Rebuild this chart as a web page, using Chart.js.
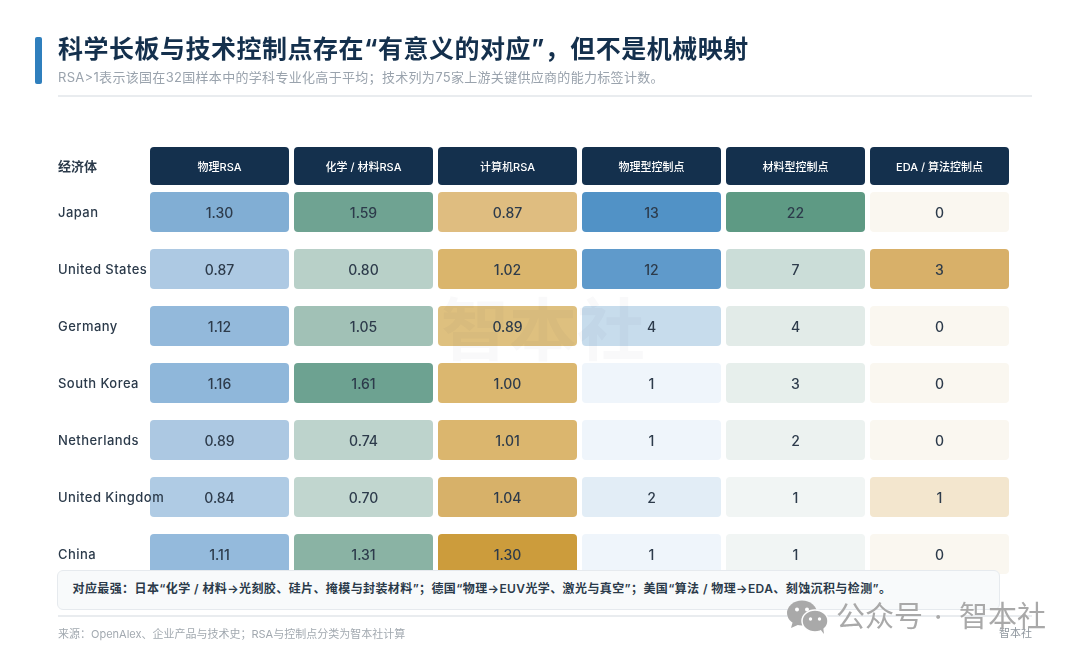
<!DOCTYPE html>
<html lang="zh">
<head>
<meta charset="utf-8">
<script src="https://cdn.jsdelivr.net/npm/chart.js@4/dist/chart.umd.js"></script>
<style>
html,body{margin:0;padding:0;background:#fff;}
body{width:1080px;height:660px;position:relative;overflow:hidden;font-family:Inter,"Noto Sans CJK SC",sans-serif;}
#c{position:absolute;left:0;top:0;}
.t{position:absolute;white-space:nowrap;}
#bar{position:absolute;left:35px;top:37px;width:7px;height:47px;background:#2f7fbd;border-radius:2px;}
#title{left:58px;top:33px;font-size:25px;line-height:32px;font-weight:700;color:#14304d;letter-spacing:.5px;}
#sub{left:58px;top:68px;font-size:13px;line-height:18px;color:#9aa3ad;letter-spacing:.31px;}
.rule{position:absolute;height:2px;background:#e9ecef;left:58px;width:974px;}
#note{position:absolute;left:57px;top:570px;width:941px;height:38px;background:#f8fafb;border:1px solid #e6eaee;border-radius:6px;z-index:3;}
#noteT{left:14.5px;top:9px;font-size:12px;line-height:18px;font-weight:600;color:#2b3a4a;letter-spacing:.4px;}
#src{left:58px;top:626px;font-size:11px;line-height:16px;color:#a2a9b0;}
#brand{left:999px;top:626px;font-size:11px;line-height:15px;color:#8f979e;}
#wm{left:441px;top:288px;font-size:68px;line-height:84px;font-weight:700;color:rgba(20,48,77,.028);z-index:2;}
.wx{color:#a9a9a9;font-size:29px;line-height:36px;top:599px;z-index:4;}
#wxi{position:absolute;left:787px;top:600px;width:41px;height:34px;z-index:4;}
</style>
</head>
<body>
<canvas id="c" width="1080" height="660" style="width:1080px;height:660px"></canvas>
<div id="bar"></div>
<div class="t" id="title">科学长板与技术控制点存在“有意义的对应”，但不是机械映射</div>
<div class="t" id="sub">RSA&gt;1表示该国在32国样本中的学科专业化高于平均；技术列为75家上游关键供应商的能力标签计数。</div>
<div class="rule" style="top:95px"></div>
<div class="t" id="wm">智本社</div>
<div id="note"><div class="t" id="noteT">对应最强：日本“化学 / 材料→光刻胶、硅片、掩模与封装材料”；德国“物理→EUV光学、激光与真空”；美国“算法 / 物理→EDA、刻蚀沉积与检测”。</div></div>
<div class="rule" style="top:615px"></div>
<div class="t" id="src">来源：OpenAlex、企业产品与技术史；RSA与控制点分类为智本社计算</div>
<div class="t" id="brand">智本社</div>
<svg id="wxi" viewBox="0 0 41 34">
<ellipse cx="15" cy="13" rx="15" ry="12.5" fill="#a9a9a9"/><path d="M6 21 L4 28 L13 24Z" fill="#a9a9a9"/>
<ellipse cx="28" cy="21" rx="13" ry="11" fill="#a9a9a9" stroke="#fff" stroke-width="1.5"/><path d="M33 29 L37 34 L36 26Z" fill="#a9a9a9"/>
<circle cx="10" cy="9.5" r="2" fill="#fff"/><circle cx="20" cy="9.5" r="2" fill="#fff"/><circle cx="23.5" cy="19" r="1.7" fill="#fff"/><circle cx="32.5" cy="19" r="1.7" fill="#fff"/>
</svg>
<div class="t wx" style="left:836px">公众号</div>
<div class="t wx" style="left:934px">·</div>
<div class="t wx" style="left:959px">智本社</div>
<script>
const economies = ["Japan","United States","Germany","South Korea","Netherlands","United Kingdom","China"];
const metrics = ["物理RSA","化学 / 材料RSA","计算机RSA","物理型控制点","材料型控制点","EDA / 算法控制点"];
const physicsRSA = ["1.30","0.87","1.12","1.16","0.89","0.84","1.11"];
const chemistryRSA = ["1.59","0.80","1.05","1.61","0.74","0.70","1.31"];
const computerRSA = ["0.87","1.02","0.89","1.00","1.01","1.04","1.30"];
const physicalCtrl = ["13","12","4","1","1","2","1"];
const materialCtrl = ["22","7","4","3","2","1","1"];
const edaCtrl = ["0","3","0","0","0","1","0"];
const columns = [physicsRSA, chemistryRSA, computerRSA, physicalCtrl, materialCtrl, edaCtrl];

const cellColors = [
 ["#81aed4","#adc9e3","#93b9db","#8fb7da","#acc8e2","#afcbe4","#94badc"],
 ["#6fa392","#b8d0c8","#a1c1b6","#6da291","#bdd3cc","#c1d6cf","#8ab3a4"],
 ["#dfbd80","#dab56c","#dec07f","#dbb76f","#dbb66e","#d7b169","#cc9c3c"],
 ["#5192c6","#5f9acb","#c7dcec","#eff5fb","#eff5fb","#e2edf6","#eff5fb"],
 ["#5e9a84","#cbddd8","#e2ebe8","#e7efec","#ecf2f0","#f1f5f4","#f1f5f4"],
 ["#faf7f0","#d8b069","#faf7f0","#faf7f0","#faf7f0","#f3e6ce","#faf7f0"]
];

function roundedCell(color){
  const cv=document.createElement('canvas'); cv.width=139; cv.height=40;
  const g=cv.getContext('2d'); g.fillStyle=color;
  g.beginPath(); g.roundRect(0,0,139,40,4); g.fill();
  return cv;
}

const cellLabels={id:'cellLabels',afterDatasetsDraw(chart){
  const g=chart.ctx; g.save();
  g.font='500 14px Inter,"Noto Sans CJK SC"'; g.textAlign='center'; g.textBaseline='middle'; g.fillStyle='#2d3b4b';
  chart.data.datasets.forEach((ds,i)=>{
    chart.getDatasetMeta(i).data.forEach((el,j)=>g.fillText(ds.data[j].v,el.x,el.y+1.5));
  });
  g.restore();
}};
const headerCells={id:'headerCells',beforeDraw(chart){
  const g=chart.ctx,x=chart.scales.x,y=chart.scales.y; g.save(); g.fillStyle='#14304d';
  metrics.forEach((m,i)=>{
    g.beginPath(); g.roundRect(x.getPixelForTick(i)-69.5,147,139,38,4); g.fill();
  });
  g.font='700 13px Inter,"Noto Sans CJK SC"'; g.fillStyle='#2b3a4a'; g.textBaseline='middle'; g.textAlign='left';
  g.fillText('经济体',58,167);
  g.restore();
  if(!y.__nudged){
    y.__nudged=true;
    y._computeLabelArea=()=>undefined;
    const draw=y.drawLabels;
    y.drawLabels=function(a){
      const c=this.ctx; c.save(); c.translate(0,1.5); c.letterSpacing='0.45px';
      draw.call(this,a); c.restore();
    };
  }
}};

new Chart(document.getElementById('c'),{
  type:'scatter',
  data:{datasets:columns.map((col,i)=>({
    label:metrics[i],
    clip:false,
    data:col.map((v,j)=>({x:metrics[i],y:economies[j],v:v})),
    pointStyle:cellColors[i].map(roundedCell),
    pointRadius:20,pointHoverRadius:20,borderWidth:0
  }))},
  options:{
    responsive:false,animation:false,devicePixelRatio:1,
    layout:{padding:{left:58,top:140,right:68.5,bottom:77.5}},
    plugins:{legend:{display:false},tooltip:{enabled:false},title:{display:false}},
    scales:{
      x:{type:'category',labels:metrics,position:'top',offset:true,
        grid:{display:false,drawTicks:false},border:{display:false},
        ticks:{color:'#ffffff',font:{family:'Inter,"Noto Sans CJK SC"',size:11,weight:'500'},padding:9,maxRotation:0,autoSkip:false},
        afterFit(s){s.height=43.5;}},
      y:{type:'category',labels:economies,position:'left',offset:true,
        grid:{display:false,drawTicks:false},border:{display:false},
        ticks:{z:1,color:'#2b3a4a',crossAlign:'far',font:{family:'Inter,"Noto Sans CJK SC"',size:13,weight:'500'},autoSkip:false},
        afterFit(s){s.width=89.5;}}
    }
  },
  plugins:[headerCells,cellLabels]
});
</script>
</body>
</html>
